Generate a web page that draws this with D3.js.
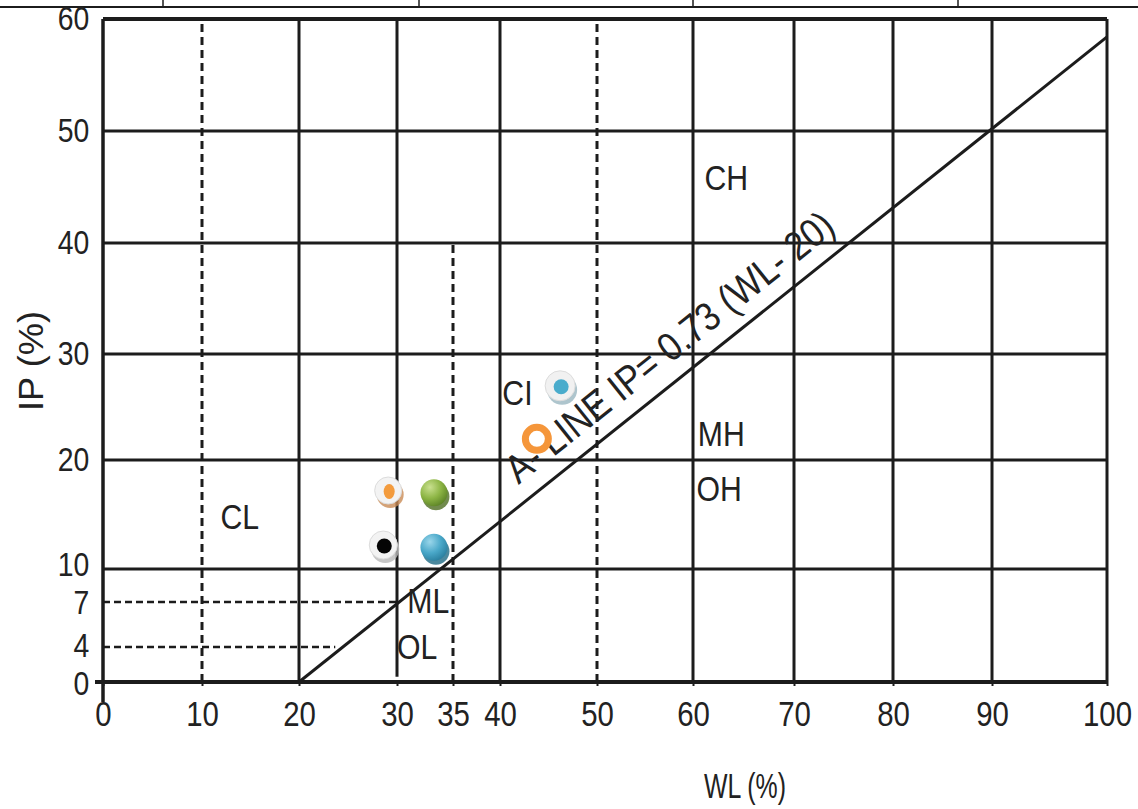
<!DOCTYPE html>
<html>
<head>
<meta charset="utf-8">
<script src="https://cdn.jsdelivr.net/npm/d3@7"></script>
<style>
  body { margin: 0; background: #fff; }
  svg text { font-family: "Liberation Sans Narrow", "Arial Narrow", "Liberation Sans", Arial, sans-serif; fill: #222; }
</style>
</head>
<body>
<div id="chart-wrapper"></div>
<script>
// plasticity chart (Casagrande)

const xTicks = [0, 10, 20, 30, 35, 40, 50, 60, 70, 80, 90, 100]
const yTicks = [0, 4, 7, 10, 20, 30, 40, 50, 60]

// grid
const solidWL = [20, 30, 40, 60, 70, 80, 90, 100]
const solidWLFrom = [0, 0.6, 0, 0, 0, 0, 0, 0]
const dashedWL = [10, 35, 50]
const dashedWLTop = [60, 40, 60]
const solidIP = [10, 20, 30, 40, 50, 60]
const dashedIP = [4, 7]
const dashedIPEnd = [23.7, 30]

// A-line IP = 0.73 (WL - 20)
const aLineSlope = 0.73
const aLineOrigin = 20
const aLineWL = [20, 100]

// soil groups
const zoneNames = ["CH", "CL", "CI", "MH", "OH", "ML", "OL"]
const zoneWL = [63.3, 13.9, 41.8, 62.8, 62.6, 32.8, 31.8]
const zoneIP = [45.8, 14.8, 26.4, 22.5, 17.4, 7.1, 4.0]

// samples
const sampleIds = ["S1", "S2", "S3", "S4", "S5", "S6"]
const sampleWL = [29.1, 33.3, 28.6, 33.3, 46.2, 43.8]
const sampleIP = [17.2, 17.0, 12.2, 12.0, 27.0, 22.0]

function drawChart() {

  const width = 1138
  const height = 809
  const narrow = "scale(0.84, 1)"   // no condensed font installed, squeeze instead

  // the grid of the source figure is not evenly spaced, so the scales follow it
  const xScale = d3.scaleLinear()
      .domain(xTicks)
      .range([103, 202, 299, 397, 453, 500, 597, 693, 794, 893, 992, 1107])

  const yScale = d3.scaleLinear()
      .domain(yTicks)
      .range([682, 647, 602, 569, 460, 354, 243, 131, 19])

  const svg = d3.select("#chart-wrapper")
    .append("svg")
      .attr("width", width)
      .attr("height", height)

  const ink = "#1c1c1c"

  // bit of the table above the figure
  const top = svg.append("g")
  top.append("line")
      .attr("x1", 0).attr("x2", width)
      .attr("y1", 7).attr("y2", 7)
      .attr("stroke", ink).attr("stroke-width", 2)
  top.selectAll("line.sep")
    .data([163, 419, 693, 958])
    .join("line")
      .attr("class", "sep")
      .attr("x1", d => d).attr("x2", d => d)
      .attr("y1", 0).attr("y2", 7)
      .attr("stroke", ink).attr("stroke-width", 1.5)

  const grid = svg.append("g")

  grid.selectAll("line.vsolid")
    .data(solidWL)
    .join("line")
      .attr("class", "vsolid")
      .attr("x1", d => xScale(d)).attr("x2", d => xScale(d))
      .attr("y1", (d, i) => yScale(solidWLFrom[i]))
      .attr("y2", yScale(60))
      .attr("stroke", ink)
      .attr("stroke-width", 3)

  grid.selectAll("line.vdash")
    .data(dashedWL)
    .join("line")
      .attr("class", "vdash")
      .attr("x1", d => xScale(d)).attr("x2", d => xScale(d))
      .attr("y1", yScale(0))
      .attr("y2", (d, i) => yScale(dashedWLTop[i]))
      .attr("stroke", ink)
      .attr("stroke-width", 3)
      .attr("stroke-dasharray", "8 5")

  grid.selectAll("line.hsolid")
    .data(solidIP)
    .join("line")
      .attr("class", "hsolid")
      .attr("x1", xScale(0)).attr("x2", xScale(100))
      .attr("y1", d => yScale(d)).attr("y2", d => yScale(d))
      .attr("stroke", ink)
      .attr("stroke-width", d => d === 60 ? 4 : 3)

  grid.selectAll("line.hdash")
    .data(dashedIP)
    .join("line")
      .attr("class", "hdash")
      .attr("x1", xScale(0))
      .attr("x2", (d, i) => xScale(dashedIPEnd[i]))
      .attr("y1", d => yScale(d)).attr("y2", d => yScale(d))
      .attr("stroke", ink)
      .attr("stroke-width", 2.5)
      .attr("stroke-dasharray", "7 4")

  // A-line
  const aLine = d => aLineSlope * (d - aLineOrigin)
  const lineGenerator = d3.line()
      .x(d => xScale(d))
      .y(d => yScale(aLine(d)))

  svg.append("path")
      .attr("d", lineGenerator(aLineWL))
      .attr("fill", "none")
      .attr("stroke", ink)
      .attr("stroke-width", 3)

  const p0 = [xScale(aLineWL[0]), yScale(aLine(aLineWL[0]))]
  const p1 = [xScale(aLineWL[1]), yScale(aLine(aLineWL[1]))]
  const angle = Math.atan2(p1[1] - p0[1], p1[0] - p0[0]) * 180 / Math.PI
  const ax = xScale(43)
  const ay = p0[1] + (ax - p0[0]) / (p1[0] - p0[0]) * (p1[1] - p0[1])

  svg.append("text")
      .attr("transform", `translate(${ax}, ${ay}) rotate(${angle})`)
      .attr("y", -17)
      .attr("font-size", 40)
      .attr("textLength", 408)
      .attr("lengthAdjust", "spacingAndGlyphs")
      .text("A- LINE IP= 0.73 (WL- 20)")

  // axes
  const xAxisGenerator = d3.axisBottom(xScale)
      .tickValues(xTicks)
      .tickSize(4)
      .tickSizeOuter(0)
      .tickPadding(15)

  const xAxis = svg.append("g")
      .attr("transform", `translate(0, ${yScale(0)})`)
      .call(xAxisGenerator)
  xAxis.select(".domain").remove()
  xAxis.selectAll("line").attr("stroke", ink).attr("stroke-width", 2)
  xAxis.selectAll("text")
      .attr("font-size", 35)
      .attr("fill", "#222")
      .attr("font-family", null)
      .attr("transform", narrow)

  svg.append("line")
      .attr("x1", xScale(0) - 8).attr("x2", xScale(100))
      .attr("y1", yScale(0)).attr("y2", yScale(0))
      .attr("stroke", ink).attr("stroke-width", 4)

  // a few labels sit very close together, nudge them apart
  const yNudge = { 10: -4, 7: 1, 4: -1, 0: 2 }

  const yAxisGenerator = d3.axisLeft(yScale)
      .tickValues(yTicks)
      .tickSize(0)
      .tickPadding(16)

  const yAxis = svg.append("g")
      .attr("transform", `translate(${xScale(0)}, 0)`)
      .call(yAxisGenerator)
  yAxis.select(".domain").remove()
  yAxis.selectAll("text")
      .attr("font-size", 33)
      .attr("fill", "#222")
      .attr("font-family", null)
      .attr("transform", d => `translate(0, ${yNudge[d] || 0}) scale(0.86, 1)`)

  svg.append("line")
      .attr("x1", xScale(0)).attr("x2", xScale(0))
      .attr("y1", yScale(60)).attr("y2", yScale(0) + 20)
      .attr("stroke", ink).attr("stroke-width", 3.5)

  svg.append("text")
      .attr("x", 745).attr("y", 785)
      .attr("text-anchor", "middle")
      .attr("dominant-baseline", "central")
      .attr("font-size", 35)
      .attr("textLength", 82)
      .attr("lengthAdjust", "spacingAndGlyphs")
      .text("WL (%)")

  svg.append("text")
      .attr("transform", "translate(30, 361) rotate(-90)")
      .attr("text-anchor", "middle")
      .attr("dominant-baseline", "central")
      .attr("font-size", 35)
      .attr("textLength", 100)
      .attr("lengthAdjust", "spacingAndGlyphs")
      .text("IP (%)")

  // zone labels
  svg.selectAll("g.zone")
    .data(zoneNames)
    .join("g")
      .attr("class", "zone")
      .attr("transform", (d, i) => `translate(${xScale(zoneWL[i])}, ${yScale(zoneIP[i])})`)
    .append("text")
      .attr("transform", narrow)
      .attr("text-anchor", "middle")
      .attr("dominant-baseline", "central")
      .attr("font-size", 36)
      .text(d => d)

  // sample markers
  const defs = svg.append("defs")
  const ball = (id, c0, c1, c2) => {
    const g = defs.append("radialGradient")
        .attr("id", id)
        .attr("cx", "35%").attr("cy", "30%").attr("r", "75%")
    g.append("stop").attr("offset", "0%").attr("stop-color", c0)
    g.append("stop").attr("offset", "55%").attr("stop-color", c1)
    g.append("stop").attr("offset", "100%").attr("stop-color", c2)
  }
  ball("greenBall", "#c9e08f", "#8db545", "#5d8426")
  ball("blueBall", "#9ad6ea", "#4aa8c9", "#2a7f9f")

  const markerStyle = {
    S1: { shadow: "#c98b55", disc: "#f3f3f3", r: 13.5, dot: "#f39b3d", rx: 5.5, ry: 7.5 },
    S2: { shadow: "#4f6e22", ball: "url(#greenBall)", r: 13.5 },
    S3: { shadow: "#b9b9b9", disc: "#f3f3f3", r: 14, dot: "#050505", rx: 7.5, ry: 7.5 },
    S4: { shadow: "#1e6a85", ball: "url(#blueBall)", r: 13.5 },
    S5: { shadow: "#9ab7c1", disc: "#f1f1f1", r: 15, dot: "#4aaccc", rx: 7.5, ry: 7.5 },
    S6: { ring: "#f5963a", r: 11.5 },
  }

  const samples = svg.selectAll("g.sample")
    .data(sampleIds)
    .join("g")
      .attr("class", "sample")
      .attr("transform", (d, i) => `translate(${xScale(sampleWL[i])}, ${yScale(sampleIP[i])})`)

  samples.each(function(d) {
    const s = markerStyle[d]
    const g = d3.select(this)
    if (s.ring) {
      g.append("circle")
          .attr("r", s.r)
          .attr("fill", "#fff")
          .attr("stroke", s.ring)
          .attr("stroke-width", 7)
      return
    }
    g.append("circle")
        .attr("cx", 2).attr("cy", 4)
        .attr("r", s.r)
        .attr("fill", s.shadow)
        .attr("opacity", 0.8)
    if (s.ball) {
      g.append("circle")
          .attr("r", s.r)
          .attr("fill", s.ball)
    } else {
      g.append("circle")
          .attr("r", s.r)
          .attr("fill", s.disc)
          .attr("stroke", "#dcdcdc")
          .attr("stroke-width", 1)
      g.append("ellipse")
          .attr("cx", 1).attr("cy", 1)
          .attr("rx", s.rx).attr("ry", s.ry)
          .attr("fill", s.dot)
    }
  })
}

drawChart()
</script>
</body>
</html>
